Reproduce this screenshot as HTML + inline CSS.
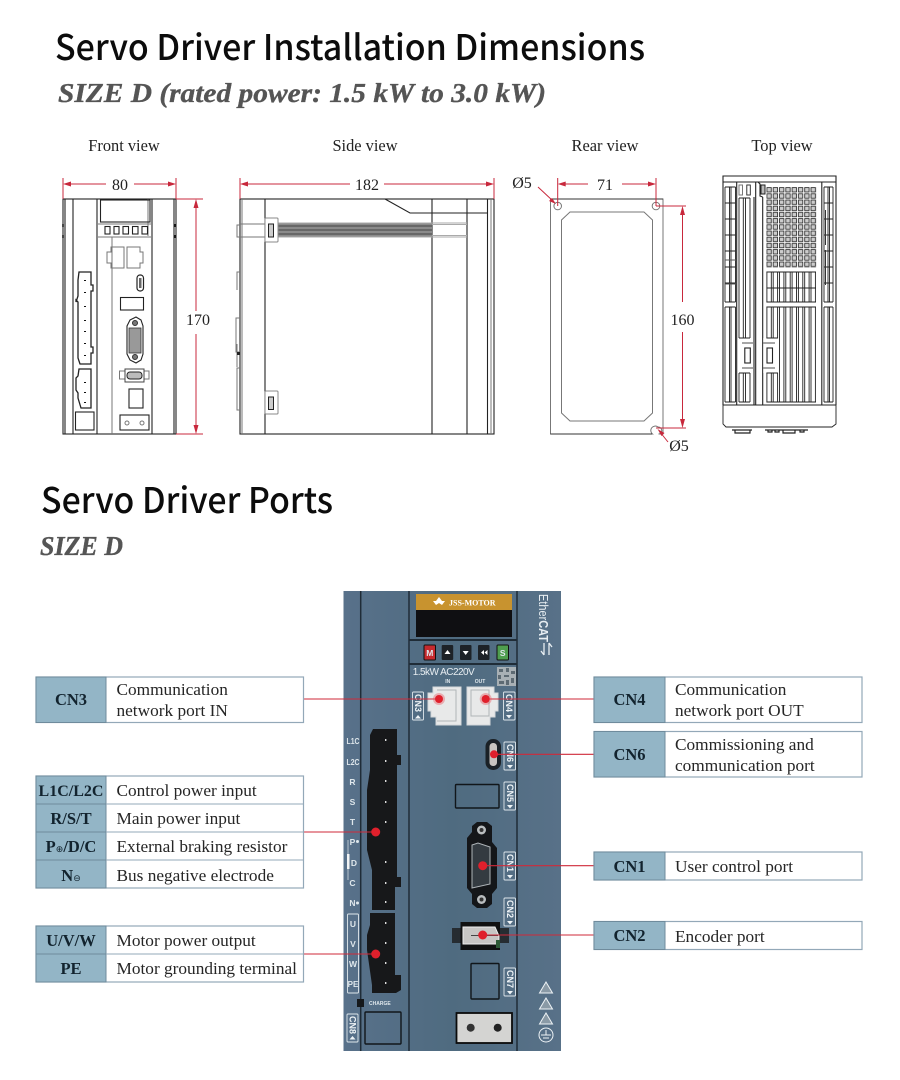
<!DOCTYPE html>
<html lang="en"><head><meta charset="utf-8"><title>Servo Driver</title>
<style>
html,body{margin:0;padding:0;background:#fff}
svg{display:block;filter:blur(.3px)}
.h{font-family:"Noto Sans CJK SC","Liberation Sans",sans-serif;font-size:35px;font-weight:500;fill:#0c0c0c}
.s{font-family:"Liberation Serif",serif;font-weight:bold;font-style:italic;font-size:27px;fill:#555;stroke:#555;stroke-width:.35}
.v{font-family:"Liberation Serif",serif;font-size:16.4px;fill:#222;text-anchor:middle}
.d{font-family:"Liberation Serif",serif;font-size:16px;fill:#222;text-anchor:middle}
.t{font-family:"Liberation Serif",serif;font-size:17.3px;fill:#262626}
.b{font-family:"Liberation Serif",serif;font-size:16.5px;font-weight:bold;fill:#12232e;text-anchor:middle}
.sup{font-size:9px;font-weight:normal;font-family:"DejaVu Sans",sans-serif}
.k{fill:none;stroke:#222;stroke-width:1.1}
.g{fill:none;stroke:#777;stroke-width:1}
.r{stroke:#c8283c;stroke-width:1;fill:none}
.ar{fill:#c8283c}
.cell{fill:#fff;stroke:#93a8b8;stroke-width:1.2}
.lab{fill:#93b5c6;stroke:#6f8b9c;stroke-width:1}
.tag{fill:none;stroke:#dfe7ec;stroke-width:.9}
.tt{font-family:"Liberation Sans",sans-serif;font-weight:bold;font-size:9px;fill:#eef3f6}
.pl{font-family:"Liberation Sans",sans-serif;font-weight:bold;font-size:8.5px;fill:#dfe7ec;text-anchor:middle}
.line{stroke:#cf2a3a;stroke-width:1.1}
.dot{fill:#e0202c}
.halo{fill:#e8525c;opacity:.4}
.tv{fill:none;stroke:#222;stroke-width:.9}
</style></head><body>
<svg xmlns="http://www.w3.org/2000/svg" width="900" height="1080" viewBox="0 0 900 1080">
<defs>
<pattern id="dash" patternUnits="userSpaceOnUse" x="766.400" y="187" width="6.300" height="6.200"><rect x=".5" y=".6" width="4.400" height="4.400" fill="#ccc" stroke="#222" stroke-width=".8"/></pattern>
<linearGradient id="pan" x1="0" x2="1" y1="0" y2="0"><stop offset="0" stop-color="#58718a"/><stop offset=".5" stop-color="#4f6b80"/><stop offset="1" stop-color="#587188"/></linearGradient>
</defs>

<text class="h" x="55" y="60" textLength="590" lengthAdjust="spacingAndGlyphs">Servo Driver Installation Dimensions</text>
<text class="s" x="58" y="102" textLength="488" lengthAdjust="spacingAndGlyphs">SIZE D (rated power: 1.5 kW to 3.0 kW)</text>
<text class="h" x="41" y="513" textLength="292" lengthAdjust="spacingAndGlyphs">Servo Driver Ports</text>
<text class="s" x="40" y="555" textLength="83" lengthAdjust="spacingAndGlyphs">SIZE D</text>

<text class="v" x="124" y="151">Front view</text>
<text class="v" x="365" y="151">Side view</text>
<text class="v" x="605" y="151">Rear view</text>
<text class="v" x="782" y="151">Top view</text>

<!-- FRONT -->
<g>
<rect class="k" x="63" y="199" width="113" height="235"/>
<path class="k" d="M73 199V434M97 199V434M152 199V434M65 199V434M174 199V434"/>
<path class="g" d="M98 224H151M98 237H151M112 237V434M148 199V236"/>
<rect class="k" x="100.500" y="200" width="49.500" height="22"/>
<rect class="k" x="105" y="226.500" width="5" height="7.500"/><rect class="k" x="114" y="226.500" width="5" height="7.500"/><rect class="k" x="123" y="226.500" width="5.500" height="7.500"/><rect class="k" x="132.500" y="226.500" width="5.500" height="7.500"/><rect class="k" x="142" y="226.500" width="5.500" height="7.500"/>
<path class="g" d="M111 247H124V268H111V263H107V252H111Z"/>
<path class="g" d="M127 247H140V252H143V263H140V268H127Z"/>
<rect x="137" y="275" width="6.500" height="16" rx="3" fill="#fff" stroke="#222" stroke-width="1.200"/><rect x="139" y="278" width="2.500" height="10" fill="#666"/>
<rect class="k" x="120.500" y="297.500" width="23" height="12.500"/>
<path class="k" d="M130 320L136 317L141 320L143 326V354L141 360L136 363L130 360L127 354V326Z"/>
<rect x="129" y="328" width="12" height="25" fill="#999" stroke="#333" stroke-width=".8"/>
<circle cx="135" cy="323" r="2.500" fill="#777" stroke="#333"/><circle cx="135" cy="357" r="2.500" fill="#777" stroke="#333"/>
<rect class="g" x="119.500" y="371" width="29.500" height="8"/>
<rect x="125" y="369" width="19" height="13" fill="#fff" stroke="#444"/><rect x="127" y="372" width="15" height="7" rx="3" fill="#bbb" stroke="#222"/>
<rect class="k" x="129" y="389" width="14" height="19"/>
<rect class="k" x="120" y="415" width="29" height="15"/>
<circle class="g" cx="127" cy="423" r="2"/><circle class="g" cx="142" cy="423" r="2"/>
<rect class="k" x="75.500" y="412" width="18.500" height="18"/>
<path d="M79 272H91V285H93V291H91V347H93V353H91V364H80L78 358V302L76 300V302L78 296V280Z" fill="#fff" stroke="#222" stroke-width="1.300"/>
<path d="M79 369H91V408H81L78 398V393L76 390V378L78 376Z" fill="#fff" stroke="#222" stroke-width="1.300"/>
<path d="M85 280v1M85 292v1M85 306v1M85 320v1M85 331v1M85 343v1M85 355v1M85 382v1M85 392v1M85 402v1" stroke="#111" stroke-width="2"/>
<path d="M63 224v3M63 235v3M175 224v3M175 235v3" stroke="#111" stroke-width="1.500"/>
</g>
<path class="r" d="M63 178V199M176 178V199M176 199H203M176 434H203"/>
<path class="r" d="M68 184H106M134 184H170M196 206V311M196 334V427"/>
<path class="ar" d="M63 184l8-2.500v5zM176 184l-8-2.500v5zM196 199l-2.500 9h5zM196 434l-2.500-9h5z"/>
<text class="d" x="120" y="190">80</text>
<text class="d" x="198" y="325">170</text>

<!-- SIDE -->
<g>
<rect class="k" x="240" y="199" width="254" height="235"/>
<path class="g" d="M242 199V434M491 199V434"/>
<path class="k" d="M265 199V434M432 199V434M467 199V434M487.500 199V434M385 199L410 213H487.500" stroke-width="1.200"/>
<rect x="278" y="223" width="154" height="14" fill="#8a8a8a"/>
<path d="M278 226H432M278 230H432M278 234H432" stroke="#444" stroke-width=".9"/>
<path d="M278 223H467M278 237H467M432 224.500H467M432 235.500H467" stroke="#aaa" stroke-width="1"/>
<path class="g" d="M240 224H265M240 237H265"/>
<path class="g" d="M240 225H237V237H240"/>
<rect x="265" y="218" width="13" height="24" rx="1" fill="#fff" stroke="#888"/>
<rect x="268.500" y="224" width="5" height="13" fill="#ccc" stroke="#222"/>
<rect x="265" y="391" width="13" height="23" rx="1" fill="#fff" stroke="#888"/>
<rect x="268.500" y="397" width="5" height="12.500" fill="#ccc" stroke="#222"/>
<path class="g" d="M240 272H237V290M240 318H236V352H240M237 344V367M240 368H237V410H240"/>
<path d="M237 352h3v3h-3z" fill="#222"/>
</g>
<path class="r" d="M240 178V199M494 178V199"/>
<path class="r" d="M246 184H350M384 184H488"/>
<path class="ar" d="M240 184l8-2.500v5zM494 184l-8-2.500v5z"/>
<text class="d" x="367" y="190">182</text>

<!-- REAR -->
<g>
<path class="g" d="M550.500 199H663V434H658.500A3 3 0 0 0 658 427 3 3 0 0 0 652.500 434H550.500Z"/>
<path d="M550.500 199H663M550.500 434H652" stroke="#333" stroke-width="1"/>
<path class="g" d="M570 212H644L652.500 220V413L644 421H570L561.500 413V220Z" stroke-width="1.200"/>
<circle class="g" cx="557.700" cy="206" r="3.800"/><circle class="g" cx="656" cy="206" r="3.800"/>
</g>
<path class="r" d="M557.700 178V206M656 178V206M656 206H686M656 428H686"/>
<path class="r" d="M562 184H588M622 184H652M682.500 212V302M682.500 332V423M538 187L553 201M668 442L660 432"/>
<path class="ar" d="M557.700 184l8-2.500v5zM656 184l-8-2.500v5zM682.500 206l-2.500 9h5zM682.500 428l-2.500-9h5zM556 204l-7-3 3-3zM657.500 429l7 4-3 3z"/>
<text class="d" x="605" y="190">71</text>
<text class="d" x="682.500" y="325">160</text>
<text class="d" x="522" y="188">Ø5</text>
<text class="d" x="679" y="451">Ø5</text>

<!-- TOP -->
<g>
<path class="k" d="M723 405V176H836V405M723 182H836"/>
<path class="tv" d="M723 405H836M723 405V424L726 427H832L836 424V405"/>
<path class="k" d="M736.700 182V405M754 197V405M755.700 182V405M755.700 182H758M762.700 197V405M758 182L760 184V196L762.700 197M821.800 182V405" stroke-width="1"/>
<!-- left zone -->
<path class="tv" d="M725 187V302M729.500 187V302M731 187V302M735.500 187V302M725 307V402M729.500 307V402M731 307V402M735.500 307V402"/>
<path class="tv" d="M725 187H735.500M725 203H735.500M725 219H735.500M725 235H735.500M725 251H735.500M725 267H735.500M725 283H735.500M725 302H735.500M725 307H735.500M725 402H735.500"/>
<path d="M725 260H736M725 284H736" stroke="#555" stroke-width=".9"/>
<!-- second zone -->
<rect class="g" x="739" y="185" width="3.500" height="10"/><rect class="tv" x="746.800" y="185" width="3.500" height="10" stroke-width="1.300"/>
<path class="tv" d="M739 198V338M743.300 198V338M745.500 198V338M750 198V338M739 373V402M743.300 373V402M745.500 373V402M750 373V402M739 198H750M739 338H750M739 373H750M739 402H750"/>
<!-- fin hatch -->
<rect x="766.400" y="187" width="50.400" height="81" fill="url(#dash)"/>
<path class="tv" d="M766.900 272V302M771.300 272V302M773.200 272V302M777.600 272V302M779.500 272V302M783.900 272V302M785.800 272V302M790.200 272V302M792.100 272V302M796.500 272V302M798.400 272V302M802.800 272V302M804.700 272V302M809.100 272V302M811 272V302M815.400 272V302M766.400 272H816M766.400 288H816M766.400 302H816"/>
<path class="tv" d="M766.900 307V402M771.300 307V402M773.200 307V402M777.600 307V402M779.500 307V402M783.900 307V402M785.800 307V402M790.200 307V402M792.100 307V402M796.500 307V402M798.400 307V402M802.800 307V402M804.700 307V402M809.100 307V402M811 307V402M815.400 307V402M766.400 307H816M766.400 402H816"/>
<rect x="763.300" y="338" width="15.500" height="35" fill="#fff"/>
<path class="tv" d="M766.400 338H778M766.400 373H778"/>
<rect class="k" x="744.800" y="348" width="5.500" height="15" stroke-width="1.300"/>
<rect class="k" x="767" y="348" width="5.500" height="15" stroke-width="1.300"/>
<path d="M742 343H754M742 368H754M763 343H775M763 368H775" stroke="#888" stroke-width="1.500"/>
<rect x="761" y="185" width="4" height="9" fill="#bbb" stroke="#222"/>
<!-- right zone -->
<path class="tv" d="M824 187V302M828 187V302M829.500 187V302M833 187V302M824 307V402M828 307V402M829.500 307V402M833 307V402M824 187H833M824 203H833M824 219H833M824 235H833M824 251H833M824 267H833M824 283H833M824 302H833M824 307H833M824 402H833"/>
<path d="M825.500 210V245M825.500 250V285" stroke="#333" stroke-width="1"/>
<path d="M732 430H752M735 430V433H750V430M765 430H808M768 430v2h4v-2M775 430v2h4v-2M783 430v3h12v-3M800 430v2h4v-2" fill="none" stroke="#222" stroke-width="1.200"/>
</g>

<!-- PANEL -->
<rect x="343.500" y="591" width="217.500" height="460" fill="url(#pan)"/>
<path d="M360.700 591V1051M409 591V1051M517 591V1051" stroke="#1f2c37" stroke-width="1.500"/>
<path d="M409 640H517M409 664H517" stroke="#1f2c37" stroke-width="2"/>
<rect x="416" y="594" width="96" height="16" fill="#c8932f"/>
<rect x="416" y="610" width="96" height="27" fill="#0f0f12"/>
<path d="M439 597l3 4 3 0-3 4-3-2-3 2-3-4h3z" fill="#fff"/>
<text x="449" y="605.500" font-family="Liberation Serif,serif" font-weight="bold" font-size="8" fill="#fff">JSS-MOTOR</text>
<rect x="424" y="645" width="11.500" height="15" rx="1" fill="#c52a2e" stroke="#111"/><text class="pl" x="429.800" y="656">M</text>
<rect x="441.700" y="645" width="11.500" height="15" rx="1" fill="#1d2227"/><path d="M447.500 650l3 4h-6z" fill="#fff"/>
<rect x="460" y="645" width="11.500" height="15" rx="1" fill="#1d2227"/><path d="M465.700 655l3-4h-6z" fill="#fff"/>
<rect x="478" y="645" width="11.500" height="15" rx="1" fill="#1d2227"/><path d="M481 652.500l3-2.500v5zM484.500 652.500l3-2.500v5z" fill="#fff"/>
<rect x="497" y="645" width="11.500" height="15" rx="1" fill="#4f9e4f" stroke="#111"/><text class="pl" x="502.700" y="656">S</text>
<text x="412.700" y="675" font-family="Liberation Sans,sans-serif" font-size="10" fill="#e7edf1" textLength="62" lengthAdjust="spacing">1.5kW AC220V</text>
<rect x="497" y="667" width="19" height="19" fill="#a8b0b5"/>
<path d="M499 669h4v3h-4zM506 668h3v4h-3zM511 671h4v3h-4zM498 675h3v4h-3zM504 675h5v2h-5zM511 678h3v5h-3zM499 681h5v3h-5zM506 680h3v5h-3z" fill="#5d6a73"/>
<text class="pl" x="447.700" y="683" style="font-size:5px">IN</text>
<text class="pl" x="480" y="683" style="font-size:5px">OUT</text>
<path d="M433 687H461V725H436V717H431V711H428V693H433Z" fill="#e8e9e9" stroke="#d4d8da"/>
<path d="M437 690H456V721H437" fill="none" stroke="#b0b5b8"/>
<path d="M467 687H494V693H498V711H495V717H490V725H467Z" fill="#e8e9e9" stroke="#d4d8da"/>
<path d="M471 690H489V716H471Z" fill="none" stroke="#b0b5b8"/>
<!-- tags -->
<rect class="tag" x="412.500" y="692" width="11" height="28" rx="1"/>
<text class="tt" transform="translate(415,694) rotate(90)">CN3</text><path d="M418 715l3 3.500h-6z" fill="#eef3f6"/>
<rect class="tag" x="503.500" y="692" width="11.500" height="28" rx="1"/>
<text class="tt" transform="translate(506,694) rotate(90)">CN4</text><path d="M509 718.500l3-3.500h-6z" fill="#eef3f6"/>
<rect class="tag" x="504" y="742" width="11.500" height="28" rx="1"/>
<text class="tt" transform="translate(507,744) rotate(90)">CN6</text><path d="M510 768.500l3-3.500h-6z" fill="#eef3f6"/>
<rect class="tag" x="504" y="782" width="11.500" height="28" rx="1"/>
<text class="tt" transform="translate(507,784) rotate(90)">CN5</text><path d="M510 808.500l3-3.500h-6z" fill="#eef3f6"/>
<rect class="tag" x="504" y="852" width="11.500" height="28" rx="1"/>
<text class="tt" transform="translate(507,854) rotate(90)">CN1</text><path d="M510 878.500l3-3.500h-6z" fill="#eef3f6"/>
<rect class="tag" x="504" y="898" width="11.500" height="28" rx="1"/>
<text class="tt" transform="translate(507,900) rotate(90)">CN2</text><path d="M510 924.500l3-3.500h-6z" fill="#eef3f6"/>
<rect class="tag" x="504" y="968" width="11.500" height="28" rx="1"/>
<text class="tt" transform="translate(507,970) rotate(90)">CN7</text><path d="M510 994.500l3-3.500h-6z" fill="#eef3f6"/>
<rect class="tag" x="347" y="1014" width="11" height="28" rx="1"/>
<text class="tt" transform="translate(349.500,1016) rotate(90)">CN8</text><path d="M352.500 1036l3 3.500h-6z" fill="#eef3f6"/>
<!-- usb-c -->
<rect x="485.500" y="739" width="15.500" height="31" rx="7.500" fill="#1b2126"/>
<rect x="489.500" y="743" width="7.500" height="23" rx="3.500" fill="#c9c4c0"/>
<rect x="455.500" y="784.500" width="43.500" height="23.500" rx="1" fill="none" stroke="#11161a" stroke-width="1.400"/>
<!-- connectors -->
<path d="M373 729H397V755H401V765H397V877H401V887H395V910H372V870L367 850V790L370 770V735Z" fill="#17181a"/>
<path d="M370 913H395V975H401V990L396 993H372V985L367 950V935L370 925Z" fill="#17181a"/>
<path d="M385.700 739v2M385.700 760v2M385.700 780v2M385.700 801v2M385.700 821v2M385.700 861v2M385.700 882v2M385.700 901v2M385.700 922v2M385.700 942v2M385.700 962v2M385.700 982v2" stroke="#ddd" stroke-width="1.400"/>
<!-- pin labels -->
<text class="pl" x="353" y="744" textLength="13" lengthAdjust="spacingAndGlyphs">L1C</text><text class="pl" x="353" y="765" textLength="13" lengthAdjust="spacingAndGlyphs">L2C</text>
<text class="pl" x="352.500" y="785">R</text><text class="pl" x="352.500" y="805">S</text><text class="pl" x="352.500" y="825">T</text>
<text class="pl" x="352.500" y="845">P</text><text class="pl" x="354" y="866">D</text><text class="pl" x="352.500" y="886">C</text><text class="pl" x="352.500" y="906">N</text>
<circle cx="357.500" cy="841.500" r="1.500" fill="#dfe7ec"/><circle cx="357.500" cy="903" r="1.500" fill="#dfe7ec"/>
<rect x="347" y="854" width="2.500" height="15" fill="#f2f4f5"/>
<path d="M348 840V854M348 869V880" stroke="#cfd9e0" stroke-width=".8"/>
<rect class="tag" x="347.500" y="914" width="11" height="79" rx="1"/>
<text class="pl" x="353" y="927">U</text><text class="pl" x="353" y="947">V</text><text class="pl" x="353" y="967">W</text><text class="pl" x="353" y="987" style="font-size:8px">PE</text>
<!-- dsub -->
<path d="M472 826L477 822H487L492 826V842L497 848V888L492 894V904L487 908H477L472 904V894L467 888V838L472 832Z" fill="#141619"/>
<circle cx="481.500" cy="830" r="4.500" fill="#b9bdbf"/><circle cx="481.500" cy="830" r="2" fill="#333"/>
<circle cx="481.500" cy="899.500" r="4.500" fill="#b9bdbf"/><circle cx="481.500" cy="899.500" r="2" fill="#333"/>
<path d="M472 845L478 843L490 847V884L472 888Z" fill="#343b41" stroke="#aeb4b8" stroke-width="1"/>
<!-- encoder -->
<rect x="452" y="928" width="57" height="15" fill="#262c31"/>
<rect x="460.500" y="922" width="39.500" height="28" fill="#111"/>
<path d="M463 927H495L499 936V944H463Z" fill="#c8c6c4" stroke="#eee"/>
<rect x="496" y="940" width="4" height="8" fill="#2e5a36"/>
<path d="M471 935.500H498" stroke="#444" stroke-width="1"/>
<rect x="471" y="963.500" width="28" height="35.500" rx="1" fill="none" stroke="#11161a" stroke-width="1.400"/>
<rect x="456.500" y="1013" width="55.500" height="30" fill="#d4d4d2" stroke="#0b0b0b" stroke-width="1.800"/>
<circle cx="470.700" cy="1027.700" r="4" fill="#333"/><circle cx="497.700" cy="1027.700" r="4" fill="#222"/>
<rect x="365" y="1012" width="36" height="32" rx="1" fill="none" stroke="#11161a" stroke-width="1.400"/>
<rect x="357" y="999" width="7" height="8" fill="#15181b"/>
<text x="369" y="1005" font-family="Liberation Sans,sans-serif" font-size="5" font-weight="bold" fill="#dfe7ec">CHARGE</text>
<!-- warning -->
<path d="M546 982l6.500 11h-13zM546 998l6.500 11h-13zM546 1013l6.500 11h-13z" fill="#8a9aa6" stroke="#eef3f6" stroke-width="1"/>
<circle cx="546" cy="1035" r="7" fill="none" stroke="#eef3f6"/><path d="M546 1030v5M541 1035h10M543 1038h6" stroke="#eef3f6" fill="none"/>
<!-- EtherCAT -->
<text transform="translate(539,594) rotate(90)" font-family="Liberation Sans,sans-serif" font-size="13" fill="#e8eef2" textLength="48" lengthAdjust="spacingAndGlyphs">Ether<tspan font-weight="bold">CAT</tspan></text>
<path d="M544 643V655M544 655L541 651M549 643V655M549 643L552 647" stroke="#e8eef2" stroke-width="1.300" fill="none"/>

<!-- leader lines -->
<path class="line" d="M303 699H439M485.700 699H594M494 754.300H594M303 832H375.700M303 954H375.700M482.700 865.700H594M482.700 935H594"/>
<g>
<circle class="halo" cx="439" cy="699" r="6"/><circle class="dot" cx="439" cy="699" r="4"/>
<circle class="halo" cx="485.700" cy="699" r="6"/><circle class="dot" cx="485.700" cy="699" r="4"/>
<circle class="dot" cx="494" cy="754.300" r="4"/>
<circle class="dot" cx="375.700" cy="832" r="4.500"/>
<circle class="dot" cx="375.700" cy="954" r="4.500"/>
<circle class="dot" cx="482.700" cy="865.700" r="4.500"/>
<circle class="dot" cx="482.700" cy="935" r="4.500"/>
</g>

<!-- LEFT TABLES -->
<rect class="cell" x="36" y="677" width="267.500" height="45.500"/><rect class="lab" x="36" y="677" width="70" height="45.500"/>
<text class="b" x="71" y="705">CN3</text>
<text class="t" x="116.500" y="695">Communication</text><text class="t" x="116.500" y="716">network port IN</text>

<rect class="cell" x="36" y="776" width="267.500" height="112"/><rect class="lab" x="36" y="776" width="70" height="28"/><rect class="lab" x="36" y="804" width="70" height="28"/><rect class="lab" x="36" y="832" width="70" height="28"/><rect class="lab" x="36" y="860" width="70" height="28"/>
<path d="M106 804H303M106 832H303M106 860H303" stroke="#93a8b8" stroke-width="1.100"/>
<text class="b" x="71" y="796" style="font-size:16px">L1C/L2C</text><text class="t" x="116.500" y="796">Control power input</text>
<text class="b" x="71" y="824">R/S/T</text><text class="t" x="116.500" y="824">Main power input</text>
<text class="b" x="71" y="852">P<tspan class="sup">⊕</tspan>/D/C</text><text class="t" x="116.500" y="852">External braking resistor</text>
<text class="b" x="71" y="881">N<tspan class="sup">⊖</tspan></text><text class="t" x="116.500" y="881">Bus negative electrode</text>

<rect class="cell" x="36" y="926" width="267.500" height="56"/><rect class="lab" x="36" y="926" width="70" height="28"/><rect class="lab" x="36" y="954" width="70" height="28"/>
<path d="M106 954H303" stroke="#93a8b8" stroke-width="1.100"/>
<text class="b" x="71" y="946">U/V/W</text><text class="t" x="116.500" y="946">Motor power output</text>
<text class="b" x="71" y="974">PE</text><text class="t" x="116.500" y="974">Motor grounding terminal</text>

<!-- RIGHT TABLES -->
<rect class="cell" x="594" y="677" width="268" height="45.500"/><rect class="lab" x="594" y="677" width="71" height="45.500"/>
<text class="b" x="629.500" y="705">CN4</text>
<text class="t" x="675" y="695">Communication</text><text class="t" x="675" y="716">network port OUT</text>

<rect class="cell" x="594" y="731.500" width="268" height="45.500"/><rect class="lab" x="594" y="731.500" width="71" height="45.500"/>
<text class="b" x="629.500" y="760">CN6</text>
<text class="t" x="675" y="750">Commissioning and</text><text class="t" x="675" y="771">communication port</text>

<rect class="cell" x="594" y="852" width="268" height="28"/><rect class="lab" x="594" y="852" width="71" height="28"/>
<text class="b" x="629.500" y="872">CN1</text><text class="t" x="675" y="872">User control port</text>

<rect class="cell" x="594" y="921.500" width="268" height="28"/><rect class="lab" x="594" y="921.500" width="71" height="28"/>
<text class="b" x="629.500" y="941">CN2</text><text class="t" x="675" y="942">Encoder port</text>
</svg>
</body></html>
